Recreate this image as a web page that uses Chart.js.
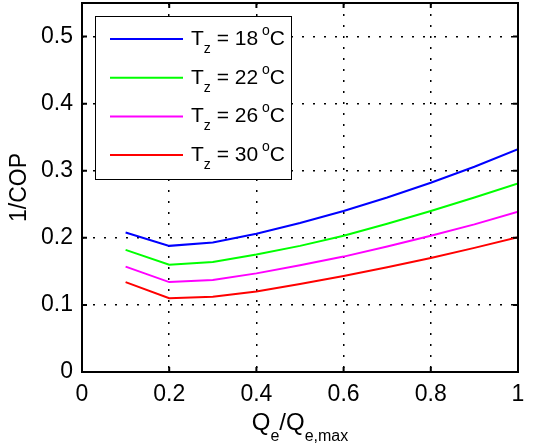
<!DOCTYPE html>
<html>
<head>
<meta charset="utf-8">
<script src="https://cdn.jsdelivr.net/npm/chart.js@4/dist/chart.umd.min.js"></script>
<style>
  html, body { margin: 0; padding: 0; background: #fff; }
  #wrap { width: 533px; height: 446px; }
</style>
</head>
<body>
<div id="wrap"><canvas id="c" width="533" height="446"></canvas></div>
<script>
// Part-load ratio Qe/Qe,max
const loadRatio = [0.1, 0.2, 0.3, 0.4, 0.5, 0.6, 0.7, 0.8, 0.9, 1.0];
// Zone temperatures (°C), one curve each
const zoneTemps = [18, 22, 26, 30];
// 1/COP for each zone temperature
const invCop18 = [0.208, 0.188, 0.193, 0.206, 0.222, 0.240, 0.260, 0.282, 0.306, 0.332];
const invCop22 = [0.182, 0.160, 0.164, 0.175, 0.188, 0.203, 0.221, 0.240, 0.260, 0.281];
const invCop26 = [0.157, 0.134, 0.137, 0.147, 0.159, 0.172, 0.187, 0.203, 0.220, 0.239];
const invCop30 = [0.134, 0.110, 0.112, 0.120, 0.131, 0.143, 0.156, 0.170, 0.185, 0.201];
const seriesColors = ['#0000ff', '#00ff00', '#ff00ff', '#ff0000'];
// Axis ticks
const xTicks = [0, 0.2, 0.4, 0.6, 0.8, 1];
const yTicks = [0, 0.1, 0.2, 0.3, 0.4, 0.5];
const yTitle = '1/COP';

const FONT = "'Liberation Sans', Arial, Helvetica, sans-serif";
const series = [invCop18, invCop22, invCop26, invCop30];

const datasets = series.map((vals, i) => ({
  label: 'Tz = ' + zoneTemps[i] + ' °C',
  data: loadRatio.map((x, j) => ({ x: x, y: vals[j] })),
  borderColor: seriesColors[i],
  backgroundColor: seriesColors[i],
  borderWidth: 2,
  pointRadius: 0,
  tension: 0,
  fill: false
}));

const fmt = v => String(+(+v).toFixed(2));

// Boxed axes with inward ticks, rich-text legend and axis titles
const decorations = {
  id: 'decorations',
  afterDraw(chart) {
    const ctx = chart.ctx;
    const ca = chart.chartArea;
    const xs = chart.scales.x, ys = chart.scales.y;
    ctx.save();

    // legend box
    const lx = ca.left + 13, ly = ca.top + 13, lw = 196, lh = 163;
    ctx.fillStyle = '#fff';
    ctx.fillRect(lx, ly, lw, lh);
    ctx.strokeStyle = '#000';
    ctx.lineWidth = 1;
    ctx.strokeRect(lx + 0.5, ly + 0.5, lw, lh);
    zoneTemps.forEach((t, i) => {
      const cy = ly + 23 + i * 38.7;
      ctx.strokeStyle = seriesColors[i];
      ctx.lineWidth = 2;
      ctx.beginPath();
      ctx.moveTo(lx + 15, cy);
      ctx.lineTo(lx + 88, cy);
      ctx.stroke();
      ctx.fillStyle = '#000';
      ctx.textBaseline = 'alphabetic';
      ctx.textAlign = 'left';
      let x = lx + 96;
      const base = cy + 6;
      ctx.font = '21px ' + FONT;
      ctx.fillText('T', x, base); x += ctx.measureText('T').width;
      ctx.font = '14px ' + FONT;
      ctx.fillText('z', x, base + 8); x += ctx.measureText('z').width;
      ctx.font = '21px ' + FONT;
      const mid = ' = ' + t + ' ';
      ctx.fillText(mid, x, base); x += ctx.measureText(mid).width - 2;
      ctx.font = '14px ' + FONT;
      ctx.fillText('o', x, base - 10); x += ctx.measureText('o').width;
      ctx.font = '21px ' + FONT;
      ctx.fillText('C', x, base);
    });

    // frame
    ctx.strokeStyle = '#000';
    ctx.lineWidth = 2;
    ctx.strokeRect(ca.left, ca.top, ca.right - ca.left, ca.bottom - ca.top);

    // inward tick marks on all four sides
    const tl = 5;
    ctx.lineWidth = 2;
    ctx.beginPath();
    xTicks.forEach(v => {
      const px = xs.getPixelForValue(v);
      ctx.moveTo(px, ca.bottom); ctx.lineTo(px, ca.bottom - tl);
      ctx.moveTo(px, ca.top); ctx.lineTo(px, ca.top + tl);
    });
    yTicks.forEach(v => {
      const py = ys.getPixelForValue(v);
      ctx.moveTo(ca.left, py); ctx.lineTo(ca.left + tl, py);
      ctx.moveTo(ca.right, py); ctx.lineTo(ca.right - tl, py);
    });
    ctx.stroke();

    // x title: Q_e / Q_e,max
    ctx.fillStyle = '#000';
    ctx.textBaseline = 'alphabetic';
    const parts = [
      { t: 'Q', s: 24, dy: 0 },
      { t: 'e', s: 16, dy: 11 },
      { t: '/Q', s: 24, dy: 0 },
      { t: 'e,max', s: 16, dy: 11 }
    ];
    let total = 0;
    parts.forEach(p => { ctx.font = p.s + 'px ' + FONT; p.w = ctx.measureText(p.t).width; total += p.w; });
    let x0 = (ca.left + ca.right) / 2 - total / 2;
    const xb = 430;
    ctx.textAlign = 'left';
    parts.forEach(p => { ctx.font = p.s + 'px ' + FONT; ctx.fillText(p.t, x0, xb + p.dy); x0 += p.w; });

    // y title
    ctx.translate(26, (ca.top + ca.bottom) / 2);
    ctx.rotate(-Math.PI / 2);
    ctx.font = '23px ' + FONT;
    ctx.textAlign = 'center';
    ctx.fillText(yTitle, 0, 0);

    ctx.restore();
  }
};

new Chart(document.getElementById('c'), {
  type: 'line',
  data: { datasets },
  options: {
    responsive: false,
    devicePixelRatio: 1,
    animation: false,
    layout: { padding: { left: 0, right: 15, top: 3, bottom: 0 } },
    plugins: { legend: { display: false }, tooltip: { enabled: false } },
    scales: {
      x: {
        type: 'linear',
        min: 0,
        max: 1,
        afterBuildTicks: s => { s.ticks = xTicks.map(v => ({ value: v })); },
        afterFit: s => { s.height = 74; s.paddingLeft = 0; s.paddingRight = 0; },
        ticks: { font: { size: 23, family: FONT }, color: '#000', padding: 9, maxRotation: 0, callback: fmt },
        grid: { color: '#000', lineWidth: 1.5, drawTicks: false },
        border: { display: false, dash: [2, 9] }
      },
      y: {
        type: 'linear',
        min: 0,
        max: 0.55,
        afterBuildTicks: s => { s.ticks = yTicks.map(v => ({ value: v })); },
        afterFit: s => { s.width = 82; s.paddingTop = 0; s.paddingBottom = 0; },
        ticks: { font: { size: 23, family: FONT }, color: '#000', padding: 9, callback: fmt },
        grid: { color: '#000', lineWidth: 1.5, drawTicks: false },
        border: { display: false, dash: [2, 9] }
      }
    }
  },
  plugins: [decorations]
});
</script>
</body>
</html>
